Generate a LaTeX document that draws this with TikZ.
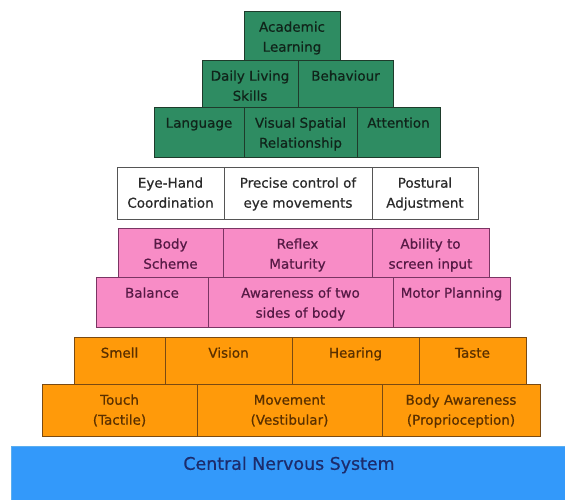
\documentclass[tikz,border=0pt]{standalone}
\usepackage{fontspec}
\setmainfont{DejaVu Sans}
\newfontfamily\lblfont[FakeBold=0.6]{DejaVu Sans}
\definecolor{gfill}{HTML}{2E8C62}
\definecolor{gline}{HTML}{1E3B2B}
\definecolor{gtext}{HTML}{10241A}
\definecolor{pfill}{HTML}{F88CC6}
\definecolor{pline}{HTML}{7A3563}
\definecolor{ptext}{HTML}{561A45}
\definecolor{ofill}{HTML}{FF9A0A}
\definecolor{oline}{HTML}{7A4A12}
\definecolor{otext}{HTML}{5A3000}
\definecolor{wline}{HTML}{555555}
\definecolor{wtext}{HTML}{2A2A2A}
\definecolor{bfill}{HTML}{3399FA}
\definecolor{bline}{HTML}{5AAEF0}
\definecolor{btext}{HTML}{1C2C6C}
\newcommand\blk[7]{%
  \node[#1, minimum width={(#5)-(#3)}, minimum height={(#6)-(#4)}, anchor=north west] (#2) at (#3,#4) {};
  \node[#1txt, anchor=north] (#2t) at ({((#3)+(#5))/2},{(#4)+10}) {\rule{0pt}{10.5pt}#7};
}
\tikzset{
  boxbase/.style={inner sep=0pt, outer sep=0pt, line width=0.9pt},
  lbl/.style={inner sep=0pt, align=center, font=\lblfont\fontsize{13.5}{20}\selectfont},
  gbox/.style={boxbase, draw=gline, fill=gfill},
  gboxtxt/.style={lbl, text=gtext},
  wbox/.style={boxbase, draw=wline, fill=white},
  wboxtxt/.style={lbl, text=wtext},
  pbox/.style={boxbase, draw=pline, fill=pfill},
  pboxtxt/.style={lbl, text=ptext},
  obox/.style={boxbase, draw=oline, fill=ofill},
  oboxtxt/.style={lbl, text=otext},
}
\begin{document}
\begin{tikzpicture}[x=1pt,y=-1pt]
\useasboundingbox[fill=white] (0,0) rectangle (565,500);
\clip (0,0) rectangle (565,500);
% CNS base
\node[boxbase, draw=bline, fill=bfill, line width=0.6pt, minimum width=560pt, minimum height=60pt, anchor=north west] (cns) at (11,446) {};
\node[inner sep=0pt, text=btext, font=\lblfont\fontsize{17.4}{20}\selectfont] (cnst) at (289,465) {Central Nervous System};
% orange rows
\blk{obox}{touch}{42}{384}{197}{436}{Touch\\(Tactile)}
\blk{obox}{move}{197}{384}{382}{436}{Movement\\(Vestibular)}
\blk{obox}{bodyaw}{382}{384}{540}{436}{Body Awareness\\(Proprioception)}
\blk{obox}{smell}{74}{337}{165}{384}{Smell}
\blk{obox}{vision}{165}{337}{292}{384}{Vision}
\blk{obox}{hearing}{292}{337}{419}{384}{Hearing}
\blk{obox}{taste}{419}{337}{526}{384}{Taste}
% pink rows
\blk{pbox}{balance}{96}{277}{208}{327}{Balance}
\blk{pbox}{twosides}{208}{277}{393}{327}{Awareness of two\\sides of body}
\blk{pbox}{motor}{393}{277}{510}{327}{Motor Planning}
\blk{pbox}{scheme}{118}{228}{223}{277}{Body\\Scheme}
\blk{pbox}{reflex}{223}{228}{372}{277}{Reflex\\Maturity}
\blk{pbox}{screen}{372}{228}{489}{277}{Ability to\\screen input}
% white row
\blk{wbox}{eyehand}{117}{167}{224}{219}{Eye-Hand\\Coordination}
\blk{wbox}{precise}{224}{167}{372}{219}{Precise control of\\eye movements}
\blk{wbox}{postural}{372}{167}{478}{219}{Postural\\Adjustment}
% green rows
\blk{gbox}{lang}{154}{107}{244}{157}{Language}
\blk{gbox}{visual}{244}{107}{357}{157}{Visual Spatial\\Relationship}
\blk{gbox}{atten}{357}{107}{440}{157}{Attention}
\blk{gbox}{daily}{202}{60}{298}{107}{Daily Living\\Skills}
\blk{gbox}{behav}{298}{60}{393}{107}{Behaviour}
\blk{gbox}{acad}{244}{11}{340}{60}{Academic\\Learning}
\end{tikzpicture}
\end{document}
